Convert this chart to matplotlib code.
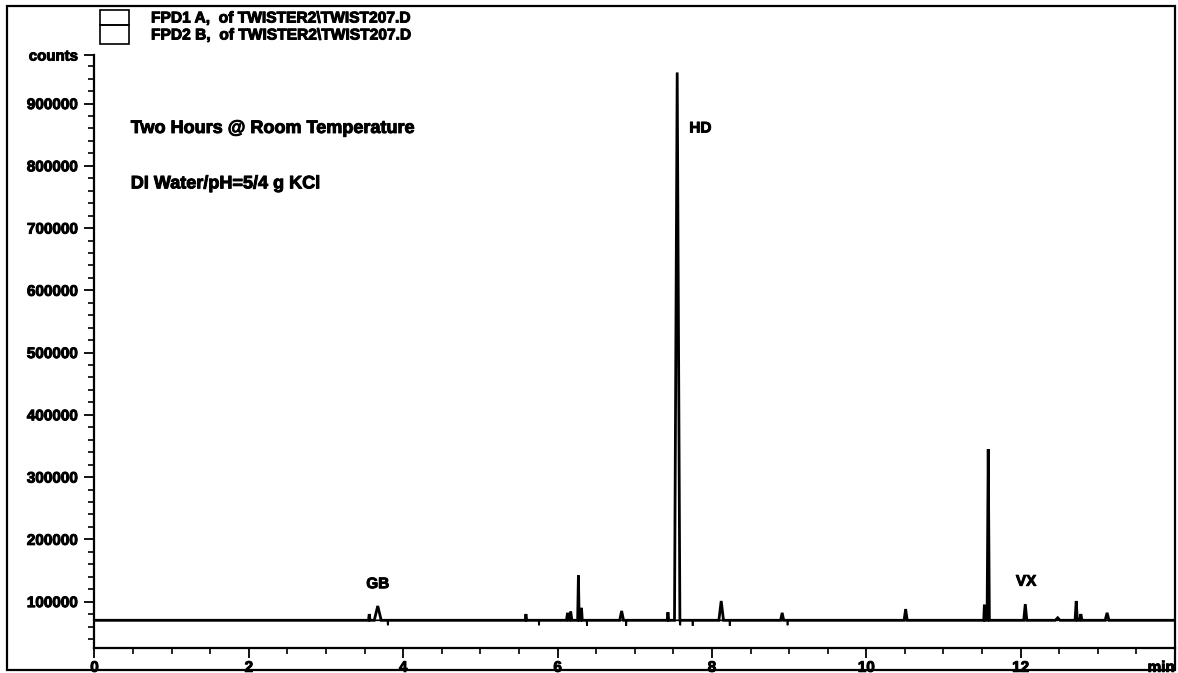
import numpy as np
import matplotlib
matplotlib.use("Agg")
import matplotlib.pyplot as plt
import matplotlib.patheffects as pe
from matplotlib.patches import Rectangle
from matplotlib.ticker import MultipleLocator, FixedLocator

plt.rcParams['font.family'] = ['Liberation Sans', 'DejaVu Sans']
plt.rcParams['font.weight'] = 'bold'

# FPD1 A signal: flat baseline plus a table of peaks (retention time, apex counts, half width)
baseline = 70000
peak_time = [3.56, 3.67, 5.59, 6.13, 6.17, 6.27, 6.31, 6.83, 7.43, 7.55, 8.12, 8.91,
             10.51, 11.53, 11.58, 12.06, 12.48, 12.72, 12.78, 13.12]
peak_height = [80000, 93000, 80000, 82000, 84000, 142000, 90000, 85000, 83000, 950000,
               101000, 82000, 88000, 95000, 345000, 96000, 74000, 101000, 80000, 82000]
peak_halfwidth = [0.010, 0.045, 0.010, 0.015, 0.015, 0.010, 0.010, 0.025, 0.010, 0.035,
                  0.030, 0.020, 0.020, 0.008, 0.015, 0.020, 0.030, 0.015, 0.015, 0.025]

# FPD2 B signal: same baseline with small negative spikes
dip_time = [3.80, 5.76, 6.38, 6.89, 7.59, 7.75, 8.23, 8.98]
dip_depth = [62000, 62000, 61000, 61000, 62000, 61000, 61000, 62000]

run_start, run_end = 0.0, 14.0

peak_labels = ["GB", "HD", "VX"]
peak_label_x = [3.67, 7.85, 12.07]
peak_label_y = [128000, 860000, 132000]

notes = ["Two Hours @ Room Temperature", "DI Water/pH=5/4 g KCl"]
note_y = [860000, 771000]

legend_entries = ["FPD1 A,  of TWISTER2\\TWIST207.D", "FPD2 B,  of TWISTER2\\TWIST207.D"]

y_major = [100000, 200000, 300000, 400000, 500000, 600000, 700000, 800000, 900000]
y_top = 978000
y_bottom = 25000

heavy = [pe.withStroke(linewidth=0.7, foreground="black")]


def trace(times, tops, halfwidths):
    t = np.asarray(times, float)
    h = np.asarray(tops, float)
    w = np.asarray(halfwidths, float)
    xs = np.column_stack([t - w, t, t + w]).ravel()
    ys = np.column_stack([np.full_like(h, baseline), h, np.full_like(h, baseline)]).ravel()
    xs = np.concatenate([[run_start], xs, [run_end]])
    ys = np.concatenate([[baseline], ys, [baseline]])
    return xs, ys


W, H = 1178, 673
fig = plt.figure(figsize=(W / 100, H / 100), dpi=100)
fig.patch.set_facecolor("white")

def fx(px):
    return px / W

def fy(py):
    return 1 - py / H

ax = fig.add_axes([fx(94.5), fy(648.3), fx(1175) - fx(94.5), fy(55) - fy(648.3)])

x2, y2 = trace(dip_time, dip_depth, [0.004] * len(dip_time))
ax.plot(x2, y2, color="black", lw=1.2, solid_joinstyle="miter")
x1, y1 = trace(peak_time, peak_height, peak_halfwidth)
ax.plot(x1, y1, color="black", lw=2.0, solid_joinstyle="miter")

ax.set_xlim(run_start, run_end)
ax.set_ylim(y_bottom, y_top)

for s in ("top", "right"):
    ax.spines[s].set_visible(False)
for s in ("left", "bottom"):
    ax.spines[s].set_linewidth(1.6)

ax.xaxis.set_major_locator(FixedLocator([0, 2, 4, 6, 8, 10, 12]))
ax.xaxis.set_minor_locator(MultipleLocator(0.5))
ax.set_xticklabels(["0", "2", "4", "6", "8", "10", "12"])
ax.yaxis.set_major_locator(FixedLocator(y_major + [y_top]))
ax.set_yticklabels([str(v) for v in y_major] + ["counts"])
ax.yaxis.set_minor_locator(MultipleLocator(20000))

ax.tick_params(axis="both", which="major", direction="out", length=7, width=1.3,
               labelsize=11, color="black")
ax.tick_params(axis="both", which="minor", direction="out", length=4, width=1.2)
ax.tick_params(axis="x", which="major", pad=2)
ax.tick_params(axis="y", which="major", pad=5)
for lab in ax.get_xticklabels() + ax.get_yticklabels():
    lab.set_fontweight("bold")
    lab.set_path_effects(heavy)
ax.get_yticklabels()[-1].set_fontsize(10.8)

ax.annotate("min", xy=(run_end, 0), xycoords=("data", "axes fraction"),
            xytext=(0, -9), textcoords="offset points", ha="right", va="top",
            fontsize=11, fontweight="bold", path_effects=heavy)

for lab, lx, ly in zip(peak_labels, peak_label_x, peak_label_y):
    ax.text(lx, ly, lab, ha="center", va="center", fontsize=11, fontweight="bold",
            path_effects=heavy)

for txt, ny in zip(notes, note_y):
    ax.text(0.47, ny, txt, ha="left", va="center", fontsize=13, fontweight="bold",
            path_effects=heavy)

# outer frame
fig.patches.append(Rectangle((fx(7), fy(670)), fx(1175) - fx(7), fy(6) - fy(670),
                             transform=fig.transFigure, fill=False, lw=1.6,
                             edgecolor="black", clip_on=False))

# legend boxes and entries
box_edges = [10, 25, 44]
for i, txt in enumerate(legend_entries):
    top, bot = box_edges[i], box_edges[i + 1]
    fig.patches.append(Rectangle((fx(100), fy(bot)), fx(129) - fx(100), fy(top) - fy(bot),
                                 transform=fig.transFigure, fill=False, lw=1.2,
                                 edgecolor="black"))
    fig.text(fx(151), fy((top + bot) / 2 + 0.5), txt, ha="left", va="center",
             fontsize=11.2, fontweight="bold", path_effects=heavy)

fig.savefig("out.png", dpi=100, facecolor="white")
